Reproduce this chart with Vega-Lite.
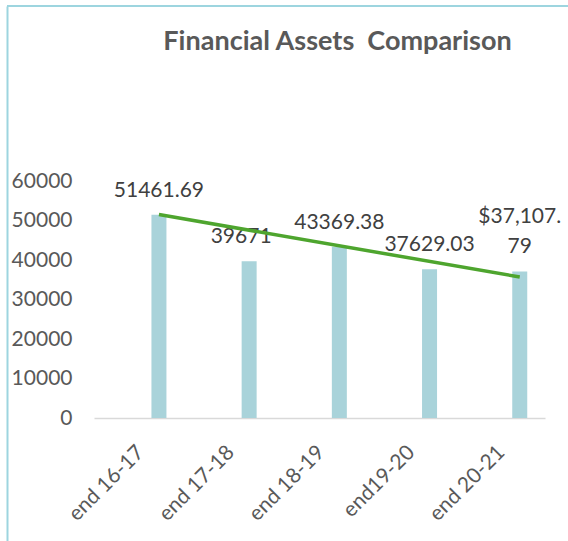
{
  "$schema": "https://vega.github.io/schema/vega-lite/v6.json",
  "autosize": {"type": "none"},
  "padding": {"left": 7, "top": 6, "right": 0, "bottom": 0},
  "width": 561,
  "height": 535,
  "background": "#ffffff",
  "config": {
    "view": {"stroke": null},
    "font": "Lato",
    "text": {"lineBreak": "\n"}
  },
  "title": {
    "text": "Financial Assets\u00a0 Comparison",
    "font": "Lato",
    "fontSize": 27,
    "fontWeight": "bold",
    "color": "#595959",
    "anchor": "middle",
    "frame": "group",
    "baseline": "alphabetic",
    "offset": -72,
    "dx": 50
  },
  "data": {
    "values": [
      {"period": "end 16-17", "value": 51461.69, "label": "51461.69"},
      {"period": "end 17-18", "value": 39671, "label": "39671"},
      {"period": "end 18-19", "value": 43369.38, "label": "43369.38"},
      {"period": "end19-20", "value": 37629.03, "label": "37629.03"},
      {"period": "end 20-21", "value": 37107.79, "label": "$37,107.\n79"}
    ]
  },
  "layer": [
    {
      "mark": {"type": "bar", "color": "#a9d3da", "width": 15},
      "encoding": {
        "x": {
          "field": "period",
          "type": "nominal",
          "scale": {
            "domain": ["end 16-17", "end 17-18", "end 18-19", "end19-20", "end 20-21"],
            "range": [87, 538],
            "paddingInner": 0.44,
            "paddingOuter": 0.22,
            "align": 1
          },
          "axis": {
            "title": null,
            "orient": "bottom",
            "offset": -123,
            "domain": true,
            "domainColor": "#d9d9d9",
            "domainWidth": 1.5,
            "ticks": false,
            "tickSize": 0,
            "labelAngle": -45,
            "labelAlign": "right",
            "labelBaseline": "middle",
            "labelPadding": 31,
            "labelOffset": -18,
            "labelFont": "Lato",
            "labelFontSize": 21,
            "labelColor": "#595959",
            "labelOverlap": false,
            "grid": false
          }
        },
        "y": {
          "field": "value",
          "type": "quantitative",
          "stack": null,
          "scale": {"domain": [-31139, 104304], "nice": false, "zero": false},
          "axis": {
            "title": null,
            "orient": "left",
            "offset": 0,
            "domain": true,
            "domainColor": "#9dd5df",
            "domainWidth": 2,
            "ticks": false,
            "tickSize": 0,
            "grid": false,
            "values": [0, 10000, 20000, 30000, 40000, 50000, 60000],
            "format": "d",
            "labelPadding": -65,
            "labelAlign": "right",
            "labelBaseline": "middle",
            "labelFont": "Lato",
            "labelFontSize": 21,
            "labelColor": "#595959",
            "labelOverlap": false
          }
        },
        "y2": {"datum": 0}
      }
    },
    {
      "transform": [{"filter": "datum.period !== 'end 20-21' && datum.period !== 'end 17-18'"}],
      "mark": {"type": "text", "font": "Lato", "fontSize": 21, "color": "#404040", "baseline": "bottom", "align": "center", "dy": -14, "lineHeight": 30},
      "encoding": {
        "x": {"field": "period", "type": "nominal"},
        "y": {"field": "value", "type": "quantitative"},
        "text": {"field": "label", "type": "nominal"}
      }
    },
    {
      "transform": [{"filter": "datum.period === 'end 17-18'"}],
      "mark": {"type": "text", "font": "Lato", "fontSize": 21, "color": "#404040", "baseline": "bottom", "align": "center", "dy": -14, "dx": -8, "lineHeight": 30},
      "encoding": {
        "x": {"field": "period", "type": "nominal"},
        "y": {"field": "value", "type": "quantitative"},
        "text": {"field": "label", "type": "nominal"}
      }
    },
    {
      "transform": [{"filter": "datum.period === 'end 20-21'"}],
      "mark": {"type": "text", "font": "Lato", "fontSize": 21, "color": "#404040", "baseline": "bottom", "align": "center", "dy": -44, "lineHeight": 30},
      "encoding": {
        "x": {"field": "period", "type": "nominal"},
        "y": {"field": "value", "type": "quantitative"},
        "text": {"field": "label", "type": "nominal"}
      }
    },
    {
      "data": {
        "values": [
          {"period": "end 16-17", "value": 51500},
          {"period": "end 20-21", "value": 35700}
        ]
      },
      "mark": {"type": "line", "color": "#4ea52e", "strokeWidth": 3.5},
      "encoding": {
        "x": {"field": "period", "type": "nominal"},
        "y": {"field": "value", "type": "quantitative"}
      }
    },
    {
      "data": {"values": [{}]},
      "mark": {"type": "rule", "color": "#9dd5df", "strokeWidth": 2},
      "encoding": {
        "y": {"datum": 104304}
      }
    }
  ]
}
